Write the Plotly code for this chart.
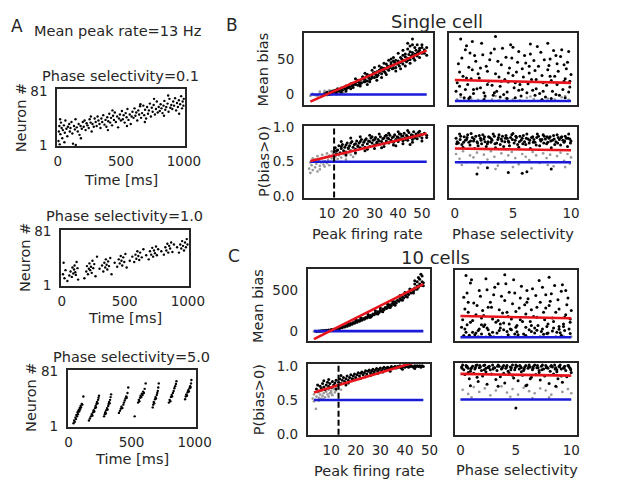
import plotly.graph_objects as go

# ---------------- DATA ----------------
MEAN_PEAK_RATE = 13          # Hz, dashed line
BIAS_NULL = 0                # blue line, mean bias
P_NULL = 0.5                 # blue line, P(bias>0)

RASTER_TITLES = ["Phase selectivity=0.1", "Phase selectivity=1.0", "Phase selectivity=5.0"]
TIME_TICKS = [0, 500, 1000]
NEURON_TICKS = [1, 81]
RATE_TICKS = [10, 20, 30, 40, 50]
SEL_TICKS = [0, 5, 10]
P_TICKS = [0.0, 0.5, 1.0]
P_TICK_LABELS = ["0.0", "0.5", "1.0"]
B_BIAS_TICKS = [0, 50]
C_BIAS_TICKS = [0, 500]

# raster spikes (time ms, neuron #)
A1_spikes = [(5,8),(8,22),(12,30),(15,3),(20,18),(25,35),(30,27),(35,12),(40,24),(48,31),(55,20),(60,38),(68,26),(75,15),(80,29),(90,33),(95,22),(100,27),
 (108,36),(115,19),(120,4),(128,30),(135,25),(140,40),(150,28),(158,22),(165,33),(172,17),(180,30),(190,26),(198,36),
 (205,29),(212,38),(220,24),(228,34),(235,31),(245,27),(252,40),(260,35),(268,22),(275,33),(285,29),(292,41),(300,36),
 (308,30),(315,44),(322,38),(330,33),(338,27),(345,41),(352,36),(360,46),(370,32),(378,39),(385,29),(392,43),(400,37),
 (408,48),(415,35),(422,42),(430,31),(438,45),(445,39),(452,50),(460,36),(470,44),(478,28),(485,41),(492,47),(500,38),
 (508,52),(515,40),(522,46),(530,35),(538,49),(545,43),(552,55),(560,39),(570,47),(578,33),(585,44),(592,51),(600,42),
 (608,56),(615,45),(622,50),(630,38),(638,53),(645,47),(652,59),(660,42),(668,49),(678,60),(685,46),(692,54),(700,41),
 (708,58),(715,48),(722,53),(730,63),(738,44),(745,57),(752,51),(760,61),(770,47),(778,55),(785,66),(792,50),(800,58),
 (808,52),(815,62),(822,56),(830,49),(838,60),(845,67),(852,54),(860,58),(870,63),(878,51),(885,70),(892,57),(900,61),
 (908,55),(915,66),(922,60),(930,71),(938,53),(945,64),(952,58),(960,68),(970,62),(978,74),(985,56),(990,66),(996,60),(999,70),
 (18,40),(52,6),(142,2),(262,44),(433,53),(548,30),(690,36),(763,70),(842,45),(962,48),(875,75),(655,62),(397,24),(183,12)]

A2_spikes = [(10,18),(15,35),(22,12),(30,24),(45,8),(60,16),(70,22),(80,14),(85,28),(92,19),(98,25),(102,31),(108,21),(112,17),(118,36),(125,27),(130,10),
 (180,12),(195,22),(200,30),(208,18),(215,26),(220,34),(226,24),(232,29),(238,20),(244,38),(250,27),(258,33),(268,15),(280,44),
 (300,26),(320,31),(330,22),(338,35),(345,28),(350,40),(356,32),(362,25),(368,37),(375,30),(385,42),(395,18),
 (420,35),(440,29),(452,40),(460,34),(468,45),(474,38),(480,31),(488,43),(496,36),(505,48),(515,28),
 (540,38),(560,44),(575,36),(585,47),(592,41),(600,52),(608,45),(615,39),(622,50),(635,43),(648,55),
 (670,46),(690,40),(700,52),(710,47),(718,57),(725,44),(732,53),(740,49),(748,59),(755,46),(765,55),
 (790,52),(810,47),(822,58),(830,53),(838,63),(845,50),(852,60),(860,56),(868,65),(878,51),(890,62),
 (915,58),(930,50),(940,62),(948,56),(955,67),(962,60),(970,53),(978,65),(985,58),(992,70),(998,62)]

A3_spikes = [(40,6),(45,10),(50,8),(55,14),(60,12),(62,18),(68,16),(72,22),(75,19),(80,25),(85,23),(88,28),(92,26),(96,31),(100,29),(105,34),(110,33),(118,45),
 (162,10),(170,13),(178,16),(185,19),(190,17),(195,22),(200,25),(205,23),(210,28),(215,31),(218,29),(222,34),(226,37),(230,35),(235,40),(238,43),(242,46),
 (282,16),(288,19),(292,22),(296,20),(300,25),(305,28),(310,26),(315,31),(318,34),(322,37),(326,35),(330,40),(334,44),(338,48),
 (400,21),(408,24),(415,27),(420,30),(428,28),(435,33),(440,36),(446,39),(452,42),(458,45),(462,43),(468,50),(474,58),(525,16),
 (552,36),(558,40),(562,38),(568,43),(572,46),(578,44),(582,49),(588,47),(592,52),(598,50),(604,56),(612,64),
 (668,29),(672,33),(676,37),(680,35),(686,41),(690,44),(694,42),(700,47),(704,50),(708,53),(712,58),(716,64),
 (796,36),(802,40),(808,38),(812,44),(818,47),(822,45),(828,50),(834,53),(840,57),(846,60),(852,63),(856,67),
 (925,41),(930,45),(935,48),(940,46),(945,51),(950,54),(955,52),(960,57),(965,60),(968,58),(972,64),(975,69)]

# ---- B: single cell ----
B_rate_bias_sig = [(9,1),(10,3),(11,0),(11.5,4),(12,2),(12.5,5),(13,3),(13.5,6),(14,4),(14.5,8),(15,5),(15.5,7),(16,9),(16.5,6),(17,10),(17.5,8),(18,12),(18.5,9),(19,13),(19.5,11),
 (20,15),(20.5,12),(21,10),(21.5,16),(22,14),(22.5,18),(23,13),(23.5,17),(24,20),(24.5,16),(25,22),(25.5,18),(26,21),(26.5,25),(27,19),(27.5,24),(28,27),(28.5,22),(29,26),(29.5,30),
 (30,24),(30.5,28),(31,32),(31.5,27),(32,31),(32.5,35),(33,29),(33.5,33),(34,37),(34.5,31),(35,36),(35.5,40),(36,34),(36.5,38),(37,42),(37.5,36),(38,41),(38.5,45),(39,38),(39.5,43),
 (40,47),(40.5,40),(41,45),(41.5,50),(42,43),(42.5,48),(43,53),(43.5,46),(44,51),(44.5,56),(45,49),(45.5,54),(46,59),(46.5,51),(47,57),(47.5,62),(48,54),(48.5,60),(49,65),(50,58),(51,63),(52,55),
 (44,72),(46,78),(45,68),(42,62),(40,58),(38,52),(36,48),(34,44),(48,70),(50,66),(30,38),(26,30),(22,22),(39,33),(43,40),(47,48),(33,24),(28,18),(24,12),(20,8),
 (18,5),(35,28),(41,36),(45,44),(49,52),(37,50),(32,40),(29,34),(27,14),(31,20),
 (14,1),(16,3),(18,7),(19,10),(21,13),(22,17),(23,20),(24,15),(25,25),(26,18),(27,28),(28,21),(29,24),(30,31),(31,25),(32,34),(33,38),(34,33),(35,43),(36,39),
 (37,45),(38,37),(39,48),(40,43),(41,52),(42,47),(43,57),(44,48),(45,60),(46,55),(47,66),(48,58),(49,62),(50,70),(51,58),(52,66),(38,47),(44,64),(46,70),(42,55)]
B_rate_bias_ns = [(3,-2),(4,1),(5,-1),(6,0),(7,2),(8,-1),(8.5,1),(9,3),(9.5,0),(10,2),(10.5,4),(11,1),(11.5,3),(12,5),(12.5,2),(13,6),(13.5,4),(14,1),(15,3),(16,5),
 (17,2),(18,4),(7,4),(9,5),(11,6),(6,-2),(10,-1),(14,7),(16,1),(12,0)]
B_rate_p_sig = [(13,0.64),(13.5,0.70),(14,0.61),(14.5,0.67),(15,0.73),(15.5,0.63),(16,0.69),(16.5,0.75),(17,0.66),(17.5,0.71),(18,0.64),(18.5,0.77),(19,0.69),(19.5,0.73),(20,0.66),(20.5,0.79),
 (21,0.71),(21.5,0.75),(22,0.68),(22.5,0.80),(23,0.73),(23.5,0.77),(24,0.70),(24.5,0.82),(25,0.74),(25.5,0.78),(26,0.71),(26.5,0.83),(27,0.76),(27.5,0.80),(28,0.72),(28.5,0.84),
 (29,0.77),(29.5,0.81),(30,0.74),(30.5,0.85),(31,0.78),(31.5,0.82),(32,0.75),(32.5,0.86),(33,0.79),(33.5,0.83),(34,0.76),(34.5,0.87),(35,0.80),(35.5,0.84),(36,0.77),(36.5,0.88),
 (37,0.81),(37.5,0.85),(38,0.78),(38.5,0.89),(39,0.82),(39.5,0.86),(40,0.79),(40.5,0.90),(41,0.83),(41.5,0.87),(42,0.80),(42.5,0.91),(43,0.84),(43.5,0.88),(44,0.81),(44.5,0.92),
 (45,0.85),(45.5,0.89),(46,0.82),(46.5,0.93),(47,0.86),(47.5,0.90),(48,0.83),(48.5,0.92),(49,0.87),(49.5,0.89),(50,0.84),(51,0.91),(52,0.88),
 (18,0.60),(22,0.63),(26,0.66),(30,0.69),(34,0.72),(38,0.74),(42,0.76),(46,0.78),(50,0.80),(16,0.79),(20,0.84),(24,0.86),(28,0.88),(32,0.90),(36,0.91),(40,0.93),(44,0.95),
 (27,0.68),(33,0.70),(39,0.73),(45,0.75),
 (14,0.66),(16,0.72),(18,0.74),(20,0.77),(22,0.76),(24,0.79),(26,0.81),(28,0.79),(30,0.82),(32,0.80),(34,0.84),(36,0.83),(38,0.86),(40,0.85),(42,0.87),(44,0.86),(46,0.88),
 (48,0.87),(50,0.89),(52,0.85),(19,0.70),(23,0.72),(31,0.76),(37,0.79),(43,0.82),(47,0.84),(29,0.86),(35,0.88),(41,0.90),(49,0.94)]
B_rate_p_ns = [(2.5,0.40),(3,0.34),(3.5,0.45),(4,0.38),(4.5,0.50),(5,0.42),(5.5,0.47),(6,0.36),(6.5,0.52),(7,0.44),(7.5,0.49),(8,0.55),(8.5,0.46),(9,0.51),(9.5,0.57),(10,0.48),
 (10.5,0.53),(11,0.59),(11.5,0.50),(12,0.55),(12.5,0.61),(13,0.52),(13.5,0.57),(14,0.63),(14.5,0.54),(15,0.59),(16,0.56),(17,0.61),(18,0.58),(19,0.63),(20,0.60),
 (4,0.55),(6,0.58),(8,0.60),(3,0.49),(5,0.53),(7,0.39),(9,0.43),(11,0.45),(12,0.65),(10,0.62),(16,0.50),(18,0.53),(21,0.57),(22,0.61)]
B_sel_bias_sig = [(0.1,12),(0.3,45),(0.5,8),(0.7,30),(0.9,62),(1.1,20),(1.3,5),(1.5,38),(1.7,55),(1.9,15),(2.1,28),(2.3,70),(2.5,10),(2.7,42),(2.9,24),(3.1,58),(3.3,7),(3.5,33),(3.7,48),(3.9,18),
 (4.1,64),(4.3,26),(4.5,11),(4.7,40),(4.9,52),(5.1,16),(5.3,35),(5.5,60),(5.7,6),(5.9,29),(6.1,46),(6.3,21),(6.5,57),(6.7,13),(6.9,37),(7.1,66),(7.3,9),(7.5,31),(7.7,50),(7.9,19),
 (8.1,43),(8.3,25),(8.5,61),(8.7,8),(8.9,36),(9.1,54),(9.3,14),(9.5,27),(9.7,47),(9.9,17),
 (0.2,22),(0.4,35),(0.6,52),(0.8,4),(1.0,67),(1.2,41),(1.4,27),(1.6,9),(1.8,48),(2.0,33),(2.2,16),(2.4,56),(2.6,6),(2.8,36),(3.0,50),(3.2,19),(3.4,63),(3.6,12),(3.8,29),(4.0,44),
 (4.2,8),(4.4,53),(4.6,23),(4.8,68),(5.0,31),(5.2,4),(5.4,47),(5.6,20),(5.8,39),(6.0,55),(6.2,10),(6.4,34),(6.6,26),(6.8,49),(7.0,15),(7.2,42),(7.4,59),(7.6,22),(7.8,5),(8.0,38),
 (8.2,51),(8.4,12),(8.6,30),(8.8,45),(9.0,7),(9.2,62),(9.4,24),(9.6,39),(9.8,11),(10.0,32),
 (0.5,75),(3.5,78),(1.5,72),(6.5,69),(8.0,70),(9.8,60),(4.5,3),(2.5,2),(7.5,2),(5.5,13),(0.9,14),(3.9,5),(6.9,7),(9.5,4),(1.2,3),(8.3,3),
 (0.4,18),(1.0,28),(1.6,14),(2.2,40),(2.8,20),(3.4,10),(4.0,24),(4.6,34),(5.2,22),(5.8,14),(6.4,42),(7.0,26),(7.6,12),(8.2,30),(8.8,20),(9.4,44),(9.9,24),(1.3,58),(5.0,65),(8.7,55)]
B_sel_bias_ns = [(0.2,2),(0.8,1),(1.4,3),(2.0,1.5),(2.6,4),(3.2,2),(3.8,1),(4.4,3.5),(5.0,2),(5.6,1),(6.2,4),(6.8,2.5),(7.4,1),(8.0,3),(8.6,2),(9.2,4.5),(9.8,1.5),(0.5,5),(3.5,6),(6.5,5.5),(9.5,6)]
B_sel_p_sig = [(0.1,0.85),(0.3,0.78),(0.5,0.88),(0.7,0.72),(0.9,0.82),(1.1,0.90),(1.3,0.75),(1.5,0.86),(1.7,0.70),(1.9,0.80),(2.1,0.89),(2.3,0.77),(2.5,0.84),(2.7,0.73),(2.9,0.87),(3.1,0.79),
 (3.3,0.91),(3.5,0.71),(3.7,0.83),(3.9,0.76),(4.1,0.88),(4.3,0.80),(4.5,0.85),(4.7,0.74),(4.9,0.90),(5.1,0.78),(5.3,0.86),(5.5,0.72),(5.7,0.82),(5.9,0.89),(6.1,0.76),(6.3,0.84),
 (6.5,0.70),(6.7,0.87),(6.9,0.79),(7.1,0.91),(7.3,0.74),(7.5,0.83),(7.7,0.88),(7.9,0.77),(8.1,0.85),(8.3,0.71),(8.5,0.89),(8.7,0.80),(8.9,0.86),(9.1,0.75),(9.3,0.82),(9.5,0.88),(9.7,0.73),(9.9,0.84),
 (0.2,0.80),(0.4,0.91),(0.6,0.76),(0.8,0.87),(1.0,0.83),(1.2,0.79),(1.4,0.92),(1.6,0.81),(1.8,0.88),(2.0,0.74),(2.2,0.85),(2.4,0.90),(2.6,0.80),(2.8,0.77),(3.0,0.86),(3.2,0.82),
 (3.4,0.88),(3.6,0.78),(3.8,0.90),(4.0,0.84),(4.2,0.73),(4.4,0.89),(4.6,0.81),(4.8,0.86),(5.0,0.92),(5.2,0.82),(5.4,0.76),(5.6,0.88),(5.8,0.85),(6.0,0.80),(6.2,0.91),(6.4,0.78),
 (6.6,0.86),(6.8,0.83),(7.0,0.75),(7.2,0.88),(7.4,0.81),(7.6,0.90),(7.8,0.84),(8.0,0.79),(8.2,0.87),(8.4,0.82),(8.6,0.76),(8.8,0.90),(9.0,0.83),(9.2,0.87),(9.4,0.79),(9.6,0.85),(9.8,0.91),(10.0,0.81),
 (1.9,0.33),(4.6,0.35),(5.8,0.34),(6.2,0.36),(2.8,0.42),(8.3,0.40),
 (0.15,0.77),(0.45,0.83),(0.75,0.79),(1.05,0.86),(1.35,0.81),(1.65,0.84),(1.95,0.78),(2.25,0.82),(2.55,0.87),(2.85,0.80),(3.15,0.84),(3.45,0.77),(3.75,0.86),(4.05,0.81),(4.35,0.85),
 (4.65,0.79),(4.95,0.83),(5.25,0.88),(5.55,0.80),(5.85,0.77),(6.15,0.85),(6.45,0.82),(6.75,0.79),(7.05,0.86),(7.35,0.83),(7.65,0.78),(7.95,0.87),(8.25,0.81),(8.55,0.84),(8.85,0.78),
 (9.15,0.86),(9.45,0.81),(9.75,0.85),(9.95,0.78)]
B_sel_p_ns = [(0.1,0.62),(0.4,0.55),(0.7,0.66),(1.0,0.50),(1.3,0.60),(1.6,0.57),(1.9,0.64),(2.2,0.48),(2.5,0.61),(2.8,0.54),(3.1,0.66),(3.4,0.58),(3.7,0.45),(4.0,0.63),(4.3,0.52),(4.6,0.60),
 (4.9,0.65),(5.2,0.56),(5.5,0.47),(5.8,0.62),(6.1,0.58),(6.4,0.53),(6.7,0.65),(7.0,0.60),(7.3,0.49),(7.6,0.63),(7.9,0.56),(8.2,0.61),(8.5,0.44),(8.8,0.59),(9.1,0.64),(9.4,0.52),
 (9.7,0.62),(10.0,0.57),(0.6,0.46),(2.0,0.42),(3.5,0.40),(5.0,0.43),(6.6,0.41),(8.0,0.46),(9.5,0.43),(9.9,0.48)]

# regression lines: (x_start, x_end), (y_start, y_end)
B_rate_span = [3, 52]
B_rate_bias_fit = [-10, 62]
B_rate_p_fit = [0.51, 0.905]
B_sel_span = [0, 10]
B_sel_bias_fit = [25.5, 22]
B_sel_p_fit = [0.70, 0.675]

# ---- C: 10 cells ----
C_rate_bias_sig = [(4,-5),(5,2),(5.5,-3),(6,5),(6.5,0),(7,8),(7.5,3),(8,10),(8.5,6),(9,14),(9.5,9),(10,18),(10.5,13),(11,24),(11.5,18),(12,30),(12.5,25),(13,38),(13.5,32),(14,46),
 (14.5,40),(15,58),(15.5,50),(16,68),(16.5,60),(17,80),(17.5,72),(18,92),(18.5,84),(19,106),(19.5,96),(20,118),(20.5,108),(21,130),(21.5,122),(22,142),(22.5,134),(23,155),(23.5,146),
 (24,168),(24.5,160),(25,182),(25.5,172),(26,196),(26.5,186),(27,210),(27.5,200),(28,226),(28.5,214),(29,240),(29.5,230),(30,258),(30.5,246),(31,272),(31.5,262),(32,290),(32.5,278),
 (33,306),(33.5,294),(34,324),(34.5,312),(35,342),(35.5,330),(36,362),(36.5,348),(37,380),(37.5,368),(38,402),(38.5,386),(39,420),(39.5,408),(40,444),(40.5,428),(41,464),(41.5,450),
 (42,488),(42.5,470),(43,510),(43.5,494),(44,532),(44.5,516),(45,556),(45.5,540),(46,582),(46.5,566),(47,610),(47.5,595),
 (20,140),(25,205),(30,285),(35,370),(40,475),(44,580),(46,640),(47,680),(45,610),(42,520),(38,440),(33,330),(28,250),(22,165),(17,100),(26,170),(31,240),(36,320),(41,420),(45,520),
 (47.5,560),(43.5,470),(39,380),(34,290),(29,210),(46.5,700),(45.5,660),(44,620)]
C_rate_bias_ns = [(3,-4),(3.5,2),(4.5,0),(5,-6),(6,3),(7,-2)]
C_rate_p_sig = [(4,0.66),(4.5,0.72),(5,0.63),(5.5,0.70),(6,0.67),(6.5,0.74),(7,0.69),(7.5,0.65),(8,0.72),(8.5,0.76),(9,0.70),(9.5,0.74),(10,0.68),(10.5,0.77),(11,0.72),(11.5,0.75),
 (12,0.79),(12.5,0.71),(13,0.76),(13.5,0.81),(14,0.74),(14.5,0.79),(15,0.83),(15.5,0.77),(16,0.81),(16.5,0.85),(17,0.79),(17.5,0.83),(18,0.87),(18.5,0.81),(19,0.85),(19.5,0.88),
 (20,0.83),(20.5,0.87),(21,0.90),(21.5,0.85),(22,0.89),(22.5,0.91),(23,0.87),(23.5,0.90),(24,0.93),(24.5,0.88),(25,0.92),(25.5,0.94),(26,0.90),(26.5,0.93),(27,0.95),(27.5,0.91),
 (28,0.94),(28.5,0.96),(29,0.92),(29.5,0.95),(30,0.97),(30.5,0.93),(31,0.96),(31.5,0.98),(32,0.94),(32.5,0.97),(33,0.98),(33.5,0.95),(34,0.97),(34.5,0.99),(35,0.96),(35.5,0.98),
 (36,0.99),(36.5,0.97),(37,0.99),(37.5,0.98),(38,1.0),(38.5,0.97),(39,0.99),(39.5,1.0),(40,0.98),(40.5,0.99),(41,1.0),(41.5,0.98),(42,0.99),(42.5,1.0),(43,0.99),(43.5,0.98),
 (44,1.0),(44.5,0.99),(45,1.0),(45.5,0.99),(46,1.0),(46.5,0.98),(47,1.0),(47.5,0.99),
 (9,0.80),(14,0.86),(19,0.80),(24,0.84),(29,0.89),(34,0.92),(39,0.95),(44,0.96),(12,0.66),(17,0.75),(22,0.82),(27,0.88),(7,0.78),(16,0.72),(26,0.86),(31,0.91)]
C_rate_p_ns = [(2.5,0.52),(3,0.58),(3.5,0.50),(4,0.55),(4.5,0.61),(5,0.53),(5.5,0.58),(6,0.63),(6.5,0.56),(7,0.60),(7.5,0.54),(8,0.62),(8.5,0.58),(9,0.65),(9.5,0.60),(10,0.63),
 (10.5,0.57),(11,0.66),(11.5,0.61),(12,0.64),(13,0.67),(14,0.65),(3,0.48),(5,0.49),(7,0.51),(9,0.55),(3.8,0.37),(6,0.52),(8,0.66),(10,0.60)]
C_sel_bias_sig = [(0.1,120),(0.3,480),(0.5,60),(0.7,300),(0.9,650),(1.1,200),(1.3,30),(1.5,380),(1.7,560),(1.9,150),(2.1,260),(2.3,700),(2.5,90),(2.7,420),(2.9,220),(3.1,600),
 (3.3,50),(3.5,330),(3.7,490),(3.9,170),(4.1,640),(4.3,250),(4.5,100),(4.7,400),(4.9,530),(5.1,140),(5.3,350),(5.5,610),(5.7,40),(5.9,280),(6.1,460),(6.3,190),(6.5,580),(6.7,110),
 (6.9,360),(7.1,680),(7.3,70),(7.5,300),(7.7,510),(7.9,160),(8.1,430),(8.3,230),(8.5,620),(8.7,60),(8.9,340),(9.1,550),(9.3,130),(9.5,270),(9.7,470),(9.9,180),
 (0.2,210),(0.4,340),(0.6,530),(0.8,25),(1.0,690),(1.2,410),(1.4,270),(1.6,80),(1.8,490),(2.0,320),(2.2,150),(2.4,570),(2.6,40),(2.8,360),(3.0,510),(3.2,180),(3.4,640),(3.6,110),
 (3.8,290),(4.0,440),(4.2,70),(4.4,540),(4.6,220),(4.8,690),(5.0,310),(5.2,30),(5.4,470),(5.6,190),(5.8,390),(6.0,560),(6.2,90),(6.4,330),(6.6,250),(6.8,500),(7.0,140),(7.2,420),
 (7.4,600),(7.6,210),(7.8,45),(8.0,380),(8.2,520),(8.4,110),(8.6,300),(8.8,450),(9.0,55),(9.2,630),(9.4,240),(9.6,390),(9.8,100),(10.0,320),
 (0.3,20),(1.1,60),(1.9,40),(2.7,15),(3.5,80),(4.3,30),(5.1,65),(5.9,20),(6.7,50),(7.5,35),(8.3,75),(9.1,25),(9.9,45),(0.6,150),(2.1,130),(3.6,160),(5.0,120),(6.4,140),(7.8,130),
 (9.3,160),(0.5,740),(4.0,750),(8.0,720),(1.7,100),(4.6,90),(6.9,85),(8.9,95),
 (0.4,100),(0.9,180),(1.4,50),(1.9,230),(2.4,110),(2.9,60),(3.4,200),(3.9,90),(4.4,160),(4.9,40),(5.4,210),(5.9,120),(6.4,70),(6.9,240),(7.4,100),(7.9,50),(8.4,190),(8.9,130),
 (9.4,80),(9.9,220),(0.7,420),(2.5,360),(4.2,300),(6.0,420),(7.7,350),(9.5,560)]
C_sel_bias_ns = [(0.2,10),(0.9,5),(1.6,15),(2.3,8),(3.0,12),(3.7,5),(4.4,14),(5.1,7),(5.8,11),(6.5,4),(7.2,13),(7.9,6),(8.6,10),(9.3,15),(10.0,8)]
C_sel_p_sig = [(0.1,0.97),(0.3,0.93),(0.5,0.99),(0.7,0.95),(0.9,0.91),(1.1,0.98),(1.3,0.94),(1.5,1.0),(1.7,0.96),(1.9,0.92),(2.1,0.99),(2.3,0.95),(2.5,0.97),(2.7,0.93),(2.9,1.0),
 (3.1,0.96),(3.3,0.92),(3.5,0.98),(3.7,0.94),(3.9,0.99),(4.1,0.95),(4.3,0.91),(4.5,0.97),(4.7,1.0),(4.9,0.93),(5.1,0.98),(5.3,0.94),(5.5,0.96),(5.7,0.92),(5.9,0.99),(6.1,0.95),
 (6.3,0.97),(6.5,0.93),(6.7,1.0),(6.9,0.96),(7.1,0.92),(7.3,0.98),(7.5,0.94),(7.7,0.99),(7.9,0.95),(8.1,0.91),(8.3,0.97),(8.5,1.0),(8.7,0.93),(8.9,0.98),(9.1,0.94),(9.3,0.96),
 (9.5,0.92),(9.7,0.99),(9.9,0.95),
 (0.2,1.0),(0.6,0.98),(1.0,0.96),(1.4,0.99),(1.8,0.97),(2.2,1.0),(2.6,0.98),(3.0,0.96),(3.4,1.0),(3.8,0.97),(4.2,0.99),(4.6,0.96),(5.0,1.0),(5.4,0.98),(5.8,0.97),(6.2,1.0),
 (6.6,0.98),(7.0,0.96),(7.4,1.0),(7.8,0.97),(8.2,0.99),(8.6,0.96),(9.0,1.0),(9.4,0.98),(9.8,0.97),
 (0.4,0.86),(0.8,0.80),(1.2,0.88),(1.6,0.76),(2.0,0.84),(2.4,0.72),(2.8,0.87),(3.2,0.79),(3.6,0.83),(4.0,0.74),(4.4,0.88),(4.8,0.81),(5.2,0.77),(5.6,0.85),(6.0,0.71),(6.4,0.82),
 (6.8,0.86),(7.2,0.78),(7.6,0.84),(8.0,0.73),(8.4,0.87),(8.8,0.80),(9.2,0.75),(9.6,0.83),(10.0,0.89),(0.9,0.70),(3.4,0.69),(5.9,0.70),(8.6,0.69),(5.0,0.376),
 (0.15,0.95),(0.55,0.97),(0.95,0.94),(1.35,0.96),(1.75,0.99),(2.15,0.93),(2.55,0.96),(2.95,0.94),(3.35,0.98),(3.75,0.95),(4.15,0.97),(4.55,0.93),(4.95,0.96),(5.35,0.99),(5.75,0.94),
 (6.15,0.97),(6.55,0.95),(6.95,0.99),(7.35,0.93),(7.75,0.96),(8.15,0.98),(8.55,0.94),(8.95,0.97),(9.35,0.95),(9.75,0.99),(9.95,0.93),(0.7,0.89),(2.3,0.90),(3.9,0.88),(5.5,0.90),
 (7.1,0.89),(8.7,0.90),(1.5,0.82),(4.7,0.85),(6.3,0.80),(9.1,0.84)]
C_sel_p_ns = [(0.2,0.64),(0.7,0.58),(1.2,0.68),(1.7,0.61),(2.2,0.66),(2.7,0.56),(3.2,0.63),(3.7,0.69),(4.2,0.60),(4.7,0.65),(5.2,0.57),(5.7,0.67),(6.2,0.62),(6.7,0.59),(7.2,0.66),
 (7.7,0.63),(8.2,0.57),(8.7,0.68),(9.2,0.61),(9.7,0.65),(10.0,0.59),(1.0,0.53),(4.5,0.54),(8.0,0.53),(6.5,0.52)]

C_rate_span = [3, 47.5]
C_rate_bias_fit = [-100, 580]
C_rate_p_fit = [0.61, 1.09]
C_sel_span = [0, 10]
C_sel_bias_fit = [255, 228]
C_sel_p_fit = [0.87, 0.845]

# ---------------- LAYOUT ----------------
W, H = 617, 504
FONT = "DejaVu Sans"
INK = "#262626"
RED = "#e8141c"
BLUE = "#1a1ad8"
GRAY = "#9a9a9a"


def px(x):
    return x / W


def py(y):
    return 1 - y / H


fig = go.Figure()
layout = {}

# (box x0,y0,x1,y1 in page px), xrange, yrange, xticks, xticklabels, yticks, yticklabels
axes_spec = [
    ((55, 84, 187, 143), [-5, 1008], [0.5, 85], TIME_TICKS, None, NEURON_TICKS, None),
    ((59, 229, 191, 287), [-5, 1008], [0.5, 84], TIME_TICKS, None, NEURON_TICKS, None),
    ((66, 373, 198, 432), [-5, 1008], [0.5, 84], TIME_TICKS, None, NEURON_TICKS, None),
    ((310, 27, 443, 101), [0.3, 54.5], [-15, 86], [], None, B_BIAS_TICKS, None),
    ((310, 122, 443, 196), [0.3, 54.5], [-0.015, 1.02], RATE_TICKS, None, P_TICKS, P_TICK_LABELS),
    ((460, 27, 592, 101), [-0.5, 10.5], [-5, 82], [], None, [], None),
    ((460, 123, 592, 196), [-0.5, 10.5], [-0.015, 1.02], SEL_TICKS, None, [], None),
    ((314, 269, 440, 344), [0.5, 50.1], [-128, 772], [], None, C_BIAS_TICKS, None),
    ((314, 367, 440, 440), [0.5, 50.1], [-0.01, 1.03], RATE_TICKS, None, P_TICKS, P_TICK_LABELS),
    ((466, 271, 592, 344), [-0.5, 10.5], [-50, 800], [], None, [], None),
    ((466, 366, 592, 440), [-0.5, 10.5], [-0.01, 1.03], SEL_TICKS, None, [], None),
]

refs = []
for i, (box, xr, yr, xt, xtl, yt, ytl) in enumerate(axes_spec):
    n = "" if i == 0 else str(i + 1)
    x0, y0, x1, y1 = box
    common = dict(showline=True, mirror=True, linecolor=INK, linewidth=2, showgrid=False,
                  zeroline=False, ticks="",
                  tickfont=dict(family=FONT, size=13.5, color=INK), fixedrange=True)
    xa = dict(common, domain=[px(x0), px(x1)], anchor="y" + n, range=xr, tickmode="array", tickvals=xt,
              ticklabelstandoff=2)
    if xtl:
        xa["ticktext"] = xtl
    ya = dict(common, domain=[py(y1), py(y0)], anchor="x" + n, range=yr, tickmode="array", tickvals=yt,
              ticklabelstandoff=5)
    if ytl:
        ya["ticktext"] = ytl
    layout["xaxis" + n] = xa
    layout["yaxis" + n] = ya
    refs.append(("x" + n, "y" + n))


def dots(pairs, ref, color, size):
    fig.add_trace(go.Scatter(x=[p[0] for p in pairs], y=[p[1] for p in pairs], mode="markers",
                             xaxis=ref[0], yaxis=ref[1],
                             marker=dict(color=color, size=size, line=dict(width=0)),
                             showlegend=False, hoverinfo="skip"))


def line(xs, ys, ref, color, width=2.6):
    fig.add_trace(go.Scatter(x=xs, y=ys, mode="lines", xaxis=ref[0], yaxis=ref[1],
                             line=dict(color=color, width=width), showlegend=False, hoverinfo="skip"))


# rasters
for spikes, ref in zip([A1_spikes, A2_spikes, A3_spikes], refs[:3]):
    dots(spikes, ref, "black", 2.4)

scatter_panels = [
    (B_rate_bias_ns, B_rate_bias_sig, B_rate_span, B_rate_bias_fit, BIAS_NULL, refs[3]),
    (B_rate_p_ns, B_rate_p_sig, B_rate_span, B_rate_p_fit, P_NULL, refs[4]),
    (B_sel_bias_ns, B_sel_bias_sig, B_sel_span, B_sel_bias_fit, BIAS_NULL, refs[5]),
    (B_sel_p_ns, B_sel_p_sig, B_sel_span, B_sel_p_fit, P_NULL, refs[6]),
    (C_rate_bias_ns, C_rate_bias_sig, C_rate_span, C_rate_bias_fit, BIAS_NULL, refs[7]),
    (C_rate_p_ns, C_rate_p_sig, C_rate_span, C_rate_p_fit, P_NULL, refs[8]),
    (C_sel_bias_ns, C_sel_bias_sig, C_sel_span, C_sel_bias_fit, BIAS_NULL, refs[9]),
    (C_sel_p_ns, C_sel_p_sig, C_sel_span, C_sel_p_fit, P_NULL, refs[10]),
]
for ns, sig, span, fit, null, ref in scatter_panels:
    dots(ns, ref, GRAY, 2.7)
    dots(sig, ref, "black", 3.0)
    line(span, [null, null], ref, BLUE)
    line(span, fit, ref, RED)

shapes = []
for ref in (refs[4], refs[8]):
    shapes.append(dict(type="line", xref=ref[0], yref=ref[1] + " domain", x0=MEAN_PEAK_RATE, x1=MEAN_PEAK_RATE,
                       y0=0, y1=1, line=dict(color="black", width=2, dash="6px,3px")))

annotations = []


def text(s, x, y, size, angle=0, xanchor="center"):
    annotations.append(dict(text=s, x=px(x), y=py(y), xref="paper", yref="paper", showarrow=False,
                            xanchor=xanchor, yanchor="middle", textangle=angle,
                            font=dict(family=FONT, size=size, color=INK)))


text("A", 13, 20, 17)
text("Mean peak rate=13 Hz", 117, 25, 14.5)
text(RASTER_TITLES[0], 120, 71, 14.5)
text(RASTER_TITLES[1], 125, 215, 14.5)
text(RASTER_TITLES[2], 132, 360, 14.5)
for (x, yc), ty in zip([(17, 114), (22, 258), (28, 402)], [(121, 178), (125, 320), (132, 465)]):
    text("Neuron #", x, yc, 14.5, angle=-90)
    text("Time [ms]", ty[0], ty[1], 14.5)

text("B", 236, 19, 17)
text("Single cell", 447, 15, 18)
text("Mean bias", 268, 64, 14.5, angle=-90)
text("P(bias>0)", 268, 159, 14.5, angle=-90)
text("Peak firing rate", 376, 233, 14.5)
text("Phase selectivity", 526, 233, 14.5)

text("C", 238, 256, 17)
text("10 cells", 446, 258, 18)
text("Mean bias", 263, 307, 14.5, angle=-90)
text("P(bias>0)", 263, 404, 14.5, angle=-90)
text("Peak firing rate", 378, 477, 14.5)
text("Phase selectivity", 530, 476, 14.5)

fig.update_layout(**layout)
fig.update_layout(width=W, height=H, margin=dict(l=0, r=0, t=0, b=0), paper_bgcolor="white",
                  plot_bgcolor="white", shapes=shapes, annotations=annotations,
                  font=dict(family=FONT, color=INK), showlegend=False)

# remove the browser's default page margin so the figure sits at the window origin
PAGE_FIX = "document.body.style.margin='0';document.body.style.padding='0';document.body.style.overflow='hidden';"
fig.write_html("out.html", config={"displayModeBar": False}, post_script=PAGE_FIX)
